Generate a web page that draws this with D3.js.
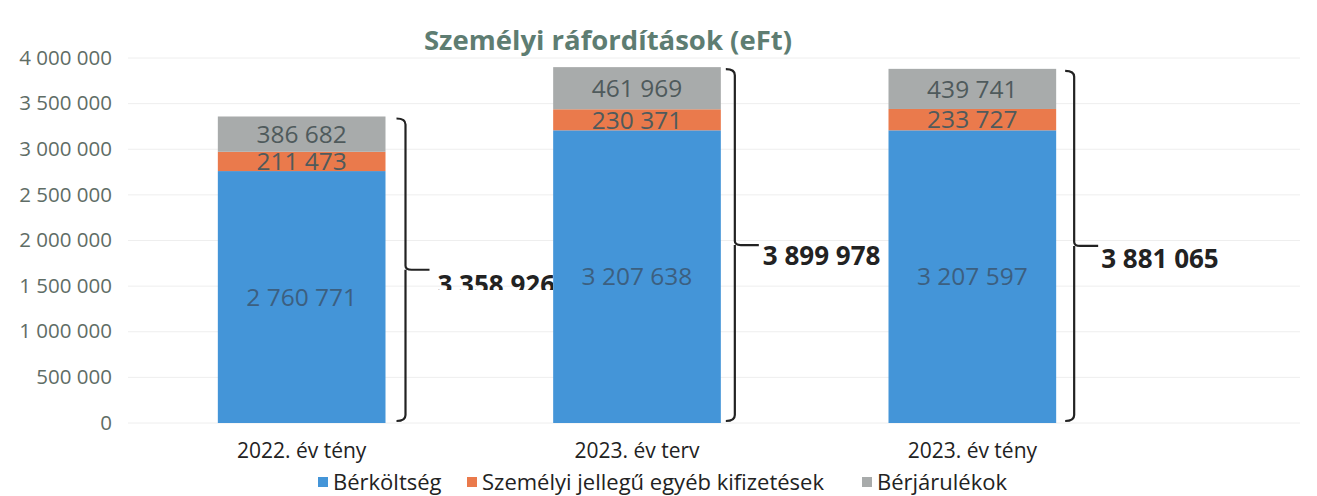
<!DOCTYPE html>
<html><head><meta charset="utf-8">
<script src="https://cdn.jsdelivr.net/npm/d3@7"></script>
<style>body{margin:0;background:#fff}svg{display:block}</style>
</head><body><svg id="c" width="1317" height="496"></svg>
<script>
const categories = ["2022. év tény", "2023. év terv", "2023. év tény"];
const seriesNames = ["Bérköltség", "Személyi jellegű egyéb kifizetések", "Bérjárulékok"];
const berkoltseg = [2760771, 3207638, 3207597];
const szemelyi = [211473, 230371, 233727];
const berjarulek = [386682, 461969, 439741];
const totals = [3358926, 3899978, 3881065];
const yTicks = [0, 500000, 1000000, 1500000, 2000000, 2500000, 3000000, 3500000, 4000000];
const colors = ["#4495d8", "#ea7a4c", "#a8abab"];
const titleText = "Személyi ráfordítások (eFt)";

const svg = d3.select("#c");
const FONT = "'Open Sans', sans-serif";
const fmt = v => d3.format(",")(v).replace(/,/g, " ");

const x = d3.scaleBand().domain(categories).range([134, 1140]).paddingInner(0.5).paddingOuter(0.25);
const y = d3.scaleLinear().domain([0, 4000000]).range([423, 58]);

// gridlines
svg.append("g").selectAll("line").data(yTicks).join("line")
  .attr("x1", 128).attr("x2", 1300)
  .attr("y1", d => y(d)).attr("y2", d => y(d))
  .attr("stroke", "#eeeeee").attr("stroke-width", 1);

// y axis
const yAxis = d3.axisLeft(y).tickValues(yTicks).tickFormat(fmt).tickSize(0).tickPadding(0);
const gy = svg.append("g").attr("transform", "translate(112,0)").call(yAxis);
gy.select(".domain").remove();
gy.selectAll("text").attr("font-family", FONT).attr("font-size", 20.5).attr("fill", "#5f6d66").attr("dy", "0.3em");

// stacks
const rows = categories.map((c, i) => ({cat: c, a: berkoltseg[i], b: szemelyi[i], c2: berjarulek[i]}));
const stack = d3.stack().keys(["a", "b", "c2"])(rows);
const layer = svg.append("g").selectAll("g").data(stack).join("g").attr("fill", (d, i) => colors[i]);
layer.selectAll("rect").data(d => d).join("rect")
  .attr("x", d => x(d.data.cat)).attr("width", x.bandwidth())
  .attr("y", d => y(d[1])).attr("height", d => y(d[0]) - y(d[1]));

// data labels
stack.forEach((s, si) => {
  svg.append("g").selectAll("text").data(s).join("text")
    .attr("x", d => x(d.data.cat) + x.bandwidth() / 2)
    .attr("y", d => (y(d[0]) + y(d[1])) / 2)
    .attr("dy", "0.36em")
    .attr("text-anchor", "middle")
    .attr("font-family", FONT).attr("font-size", 24.5)
    .attr("fill", si === 0 ? "#3c5f80" : "#4f5a5c")
    .text(d => fmt(d[1] - d[0]));
});

// x axis labels
const xAxis = d3.axisBottom(x).tickSize(0).tickPadding(0);
const gx = svg.append("g").attr("transform", "translate(0,443)").call(xAxis);
gx.select(".domain").remove();
gx.selectAll("text").attr("font-family", FONT).attr("font-size", 21).attr("fill", "#222").attr("dy", "0.7em");

// brackets
const bx = categories.map((c, i) => x(c) + x.bandwidth() + [20, 14, 18][i]);
categories.forEach((c, i) => {
  const top = y(totals[i]) + 2, bot = y(0) - 2, mid = (top + bot) / 2, X = bx[i];
  const p = `M${X - 9},${top} Q${X},${top} ${X},${top + 6} L${X},${mid - 4} Q${X},${mid} ${X + 6},${mid} L${X + 24},${mid}
             M${X},${mid} L${X},${bot - 6} Q${X},${bot} ${X - 9},${bot}`;
  svg.append("path").attr("d", p).attr("fill", "none").attr("stroke", "#222").attr("stroke-width", 2.2);
});
const labOff = [[32, 15], [28, 11], [27, 13]];
svg.append("defs").append("clipPath").attr("id", "clip0").append("rect")
  .attr("x", 0).attr("y", 0).attr("width", 553).attr("height", 290);
categories.forEach((c, i) => {
  const top = y(totals[i]), bot = y(0), mid = (top + bot) / 2;
  const t = svg.append("text").attr("x", bx[i] + labOff[i][0]).attr("y", mid + labOff[i][1]).attr("dy", "0.36em")
    .attr("font-family", FONT).attr("font-weight", "bold").attr("font-size", 26).attr("fill", "#222")
    .text(fmt(totals[i]));
  if (i === 0) t.attr("clip-path", "url(#clip0)");
});

// title
svg.append("text").attr("x", 608).attr("y", 40).attr("dy", "0.36em").attr("text-anchor", "middle")
  .attr("font-family", FONT).attr("font-weight", "bold").attr("font-size", 27.5).attr("fill", "#5e7d72")
  .text(titleText);

// legend
const legX = [318, 467, 862];
const lg = svg.append("g").selectAll("g").data(seriesNames).join("g")
  .attr("transform", (d, i) => `translate(${legX[i]},482)`);
lg.append("rect").attr("x", 0).attr("y", -5).attr("width", 10).attr("height", 10).attr("fill", (d, i) => colors[i]);
lg.append("text").attr("x", 15).attr("dy", "0.36em").attr("font-family", FONT).attr("font-size", 22).attr("fill", "#222").text(d => d);
</script></body></html>
